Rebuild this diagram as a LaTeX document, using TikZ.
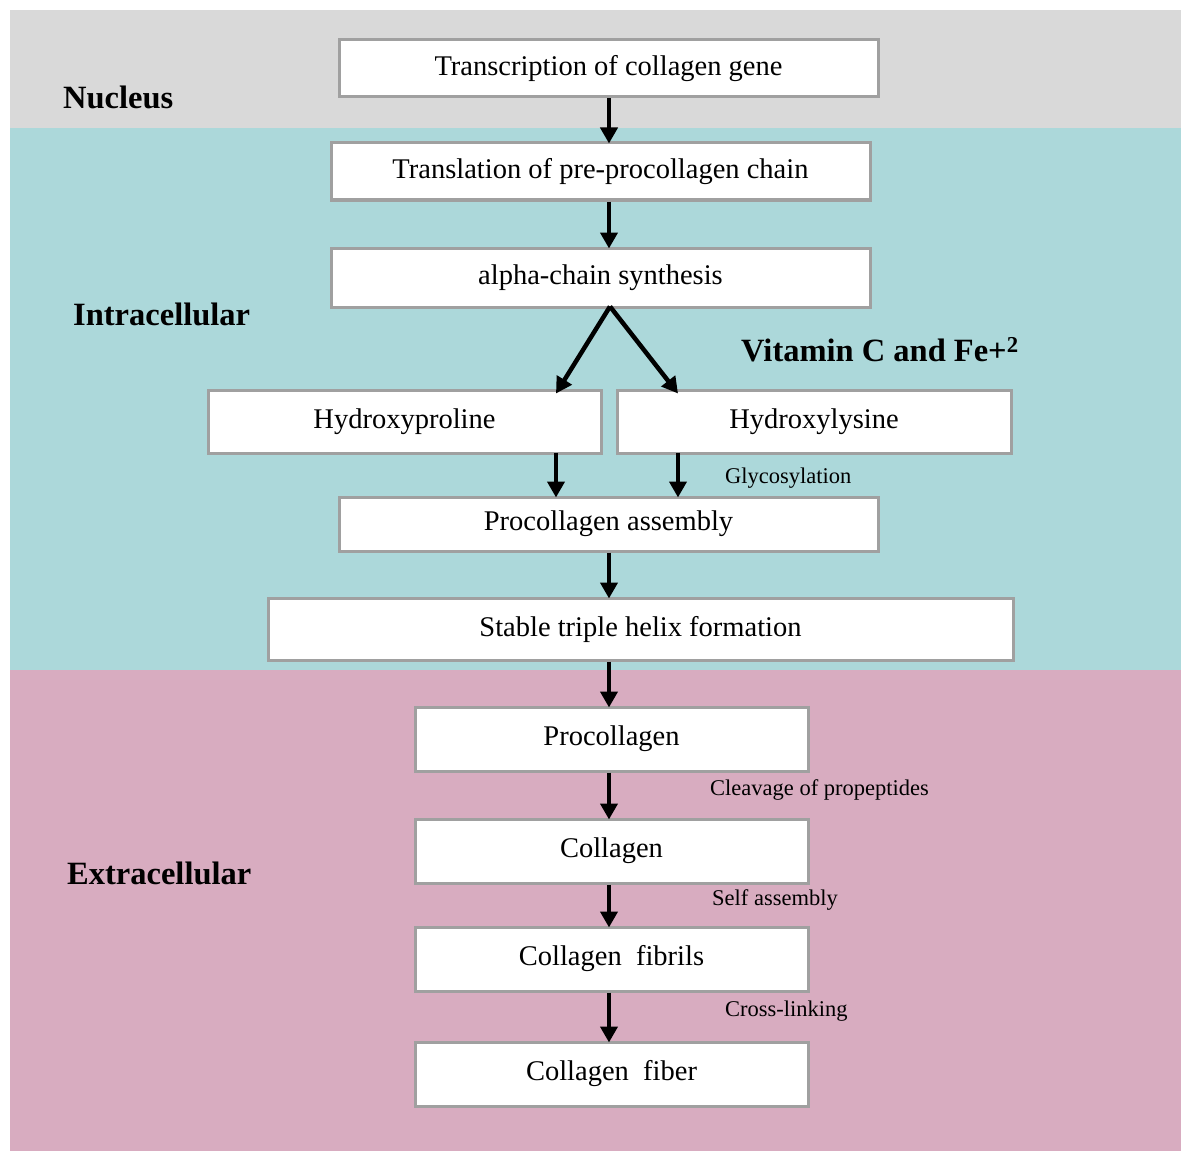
\documentclass[tikz,border=0pt]{standalone}
\usepackage{fontspec}
\setmainfont{Liberation Serif}
\usetikzlibrary{arrows.meta}
\definecolor{nucbg}{HTML}{D9D9D9}
\definecolor{intbg}{HTML}{ACD8DA}
\definecolor{extbg}{HTML}{D8ACC0}
\definecolor{boxline}{HTML}{A0A0A0}
\begin{document}
\begin{tikzpicture}[x=1pt,y=-1pt,
  stepbox/.style={draw=boxline, line width=3pt, fill=white, inner sep=0pt,
    font=\fontsize{28.5}{31}\selectfont},
  region/.style={anchor=west, inner xsep=0pt, font=\bfseries\fontsize{32.5}{36}\selectfont},
  note/.style={anchor=west, inner xsep=0pt, font=\fontsize{22.5}{25}\selectfont},
  arr/.style={-{Triangle[length=16pt,width=17pt]}, line width=4.5pt, black}]
\useasboundingbox (0,0) rectangle (1184,1153);
\fill[white] (0,0) rectangle (1184,1153);
\fill[nucbg] (10,10) rectangle (1181,128);
\fill[intbg] (10,128) rectangle (1181,670);
\fill[extbg] (10,670) rectangle (1181,1151);

\node[region] (nuc) at (63,97) {Nucleus};
\node[region] (intra) at (73,314) {Intracellular};
\node[region] (extra) at (67,873) {Extracellular};

\node[stepbox, minimum width=539pt, minimum height=57pt] (b1) at (608.5,68.5) {Transcription of collagen gene};
\node[stepbox, minimum width=539pt, minimum height=57pt] (b2) at (600.5,171.5) {Translation of pre-procollagen chain};
\node[stepbox, minimum width=539pt, minimum height=59pt] (b3) at (600.5,277.5) {alpha-chain synthesis};
\node[stepbox, minimum width=393pt, minimum height=63pt] (hp) at (404.5,421.5) {Hydroxyproline};
\node[stepbox, minimum width=394pt, minimum height=63pt] (hl) at (814,421.5) {Hydroxylysine};
\node[stepbox, minimum width=539pt, minimum height=54pt] (pa) at (608.5,524) {Procollagen assembly};
\node[stepbox, minimum width=745pt, minimum height=62pt] (th) at (640.5,629) {Stable triple helix formation};
\node[stepbox, minimum width=393pt, minimum height=64pt] (pc) at (611.5,739) {Procollagen};
\node[stepbox, minimum width=393pt, minimum height=64pt] (co) at (611.5,851) {Collagen};
\node[stepbox, minimum width=393pt, minimum height=64pt] (fb) at (611.5,959) {Collagen\ \ fibrils};
\node[stepbox, minimum width=393pt, minimum height=64pt] (fi) at (611.5,1074) {Collagen\ \ fiber};

\node[region] (vit) at (741,350) {Vitamin C and Fe+\textsuperscript{2}};
\node[note] (gly) at (725,478) {Glycosylation};
\node[note] (clv) at (710,790) {Cleavage of propeptides};
\node[note] (sel) at (712,900) {Self assembly};
\node[note] (crs) at (725,1011) {Cross-linking};

\coordinate (xm) at (609,0);
\coordinate (xs) at (610,0);
\coordinate (xa) at (556,0);
\coordinate (xb) at (678,0);

\draw[arr] (b1.south -| xm) -- ([yshift=-2pt]b2.north -| xm);
\draw[arr] (b2.south -| xm) -- ([yshift=-2pt]b3.north -| xm);
\draw[arr] ([yshift=2pt]b3.south -| xs) -- ([yshift=-5pt]hp.north -| xa);
\draw[arr] ([yshift=2pt]b3.south -| xs) -- ([yshift=-5pt]hl.north -| xb);
\draw[arr] ([yshift=2pt]hp.south -| xa) -- ([yshift=-2pt]pa.north -| xa);
\draw[arr] ([yshift=2pt]hl.south -| xb) -- ([yshift=-2pt]pa.north -| xb);
\draw[arr] (pa.south -| xm) -- ([yshift=-2pt]th.north -| xm);
\draw[arr] (th.south -| xm) -- ([yshift=-2pt]pc.north -| xm);
\draw[arr] (pc.south -| xm) -- ([yshift=-2pt]co.north -| xm);
\draw[arr] (co.south -| xm) -- ([yshift=-2pt]fb.north -| xm);
\draw[arr] (fb.south -| xm) -- ([yshift=-2pt]fi.north -| xm);
\end{tikzpicture}
\end{document}
